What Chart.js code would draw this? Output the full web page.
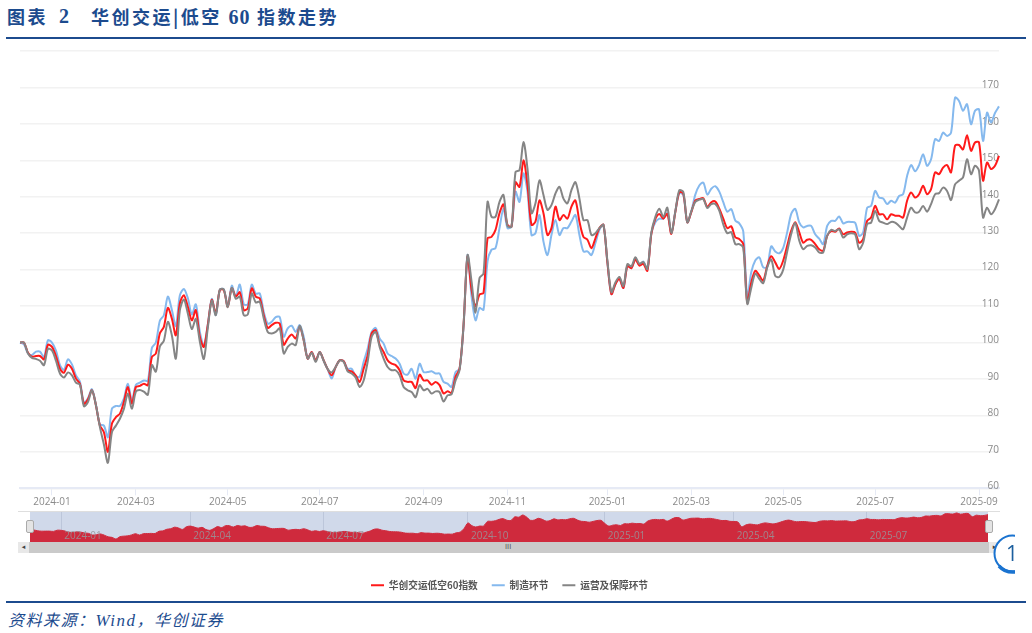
<!DOCTYPE html>
<html>
<head>
<meta charset="utf-8">
<script src="https://cdn.jsdelivr.net/npm/chart.js@4/dist/chart.umd.min.js"></script>
<style>
  html, body { margin: 0; background: #fff; }
  #page { position: relative; width: 1032px; height: 633px; overflow: hidden; font-family: "Noto Sans CJK SC", sans-serif; color: #1c4b8e; }
  #page > * { position: absolute; }
  .head { top: 3px; font-size: 18px; font-weight: 700; line-height: 26px; white-space: nowrap; letter-spacing: 2.5px; }
  .num { font-family: "Liberation Serif", serif; letter-spacing: 1px; font-size: 20px; }
  .rule { left: 6px; width: 1020px; height: 2px; background: #1c4b8e; }
  #source { left: 8px; top: 607px; font-size: 16px; font-style: italic; line-height: 24px; letter-spacing: 1.5px; white-space: nowrap; }
  #source i { font-family: "Liberation Serif", serif; font-size: 17px; }
  #mainBox { left: 0; top: 0; width: 1032px; height: 600px; filter: blur(0.4px); }
  #navBox { left: 30px; top: 512px; width: 958px; height: 30px; background: #d0d9ea; filter: blur(0.4px); }
  #navTop { left: 18px; top: 511px; width: 982px; height: 1px; background: #dedede; }
  #bar { left: 18px; top: 542px; width: 982px; height: 11px; background: #cacaca; }
  .btn { top: 542px; width: 11px; height: 11px; background: #e8e8e8; color: #444; font: 7px/11px "DejaVu Sans"; text-align: center; }
  #grip { left: 505px; top: 542px; font: 7px/11px "DejaVu Sans"; color: #555; }
  .handle { top: 520px; width: 6px; height: 11px; background: #e4e4e4; border: 1px solid #aaa; border-radius: 2px; }
  #badge { left: 990px; top: 530px; width: 25px; height: 48px; overflow: hidden; }
</style>
</head>
<body>
<div id="page">
  <div class="head" style="left:7px">图表</div>
  <div class="head num" style="left:59px">2</div>
  <div class="head" style="left:91px">华创交运|低空 <span class="num">60</span> 指数走势</div>
  <div class="rule" style="top:37px"></div>

  <div id="navTop"></div>
  <div id="navBox"><canvas id="navChart"></canvas></div>
  <div id="bar"></div>
  <div class="btn" style="left:18px">◂</div>
  <div class="btn" style="left:989px">▸</div>
  <div id="grip">III</div>
  <div class="handle" style="left:26px"></div>
  <div class="handle" style="left:985px"></div>
  <div id="mainBox"><canvas id="mainChart"></canvas></div>
  <div id="badge">
    <svg width="40" height="48">
      <circle cx="22.5" cy="23.5" r="18" fill="#fff" stroke="#1a73d0" stroke-width="2"/>
      <path d="M9 36 A18 18 0 0 0 36 36" fill="none" stroke="#1a73d0" stroke-width="3.5"/>
      <text x="16" y="31" font-family="Open Sans" font-size="21" fill="#1c5f9e">1</text>
    </svg>
  </div>

  <div class="rule" style="top:601px"></div>
  <div id="source">资料来源：<i>Wind</i>，华创证券</div>
</div>

<script>
// month names and how many sampled points fall in each one
const months = ['2023-12','2024-01','2024-02','2024-03','2024-04','2024-05','2024-06','2024-07','2024-08','2024-09','2024-10','2024-11','2024-12','2025-01','2025-02','2025-03','2025-04','2025-05','2025-06','2025-07','2025-08','2025-09'];
const monthPoints = [8,13,8,12,11,11,12,13,13,11,10,12,13,11,10,12,11,10,13,13,13,6];
const categories = months.flatMap((m, i) => Array(monthPoints[i]).fill(m));

const tickLabels = ['2024-01','2024-03','2024-05','2024-07','2024-09','2024-11','2025-01','2025-03','2025-05','2025-07','2025-09'];
const navTickLabels = ['2024-01','2024-04','2024-07','2024-10','2025-01','2025-04','2025-07'];
const yTicks = [60,70,80,90,100,110,120,130,140,150,160,170];

const seriesNames = ['华创交运低空60指数','制造环节','运营及保障环节'];

const indexValues = [
  100,100,97.2,96.1,96.3,96.3,95.4,99.4,98.8,96.3,
  92.8,91.7,93.9,92.8,90.1,88.7,83.2,84.4,86.9,82.8,
  77.2,75.4,70,77.7,79.5,80.5,83.7,87.8,83.2,87.8,
  88.1,88.7,88.3,96,97,102.5,104.3,109.5,106.6,102,
  110.7,113,109.8,106.1,108.9,101.6,98.8,104.8,111.7,108,
  114.4,114.4,109.8,114.9,112.6,113.8,108.9,109.4,114.9,112.6,
  112.1,107.5,104,104.8,105.4,105.2,99.4,101.1,102.2,101.1,
  104.3,100.6,95.6,97.4,95.1,97.4,95.1,92.7,91,93.3,
  95.1,94.9,92.4,92.1,91,89.2,92.8,96.5,102.5,103.4,
  99.4,97.4,95.1,94.2,93.8,92.4,89.6,89.2,89.2,87.5,
  91.2,89.6,89.6,88.4,89.2,88.3,86,86.6,86.2,90.6,
  92.8,104.8,123.6,114.5,110,113.2,113.6,128.6,129,130.9,
  135.5,137.9,132.3,131.8,144,142.7,150,143.2,132.3,133.2,
  139,135.5,129.5,131.4,137.3,133.6,135,134,137.3,139,
  133.2,129,128.2,125.9,128.6,131.4,132.3,122,113.3,116,
  117.4,115,121,120.4,122.8,121.1,121.6,119.7,129.8,133.9,
  135.3,134,135.3,129.8,135.8,141.3,140.8,133,135.8,139,
  139.4,139.6,137.2,138.5,138.7,136.7,134,131.4,131.9,128.9,
  128.4,127,111,116.5,119.7,118.4,117,121,123.7,122,
  120.2,122.5,126.6,130.7,133,130.3,127.4,128.2,128.2,127,
  125.6,125.2,129.3,130.6,130.4,131.3,129.7,130.2,130.4,130.2,
  127.4,128.4,133.4,134.3,137.5,135.2,135.2,133.8,135.2,134.8,
  134.8,134.3,138.9,141.2,139.8,140.7,143,140.7,142.1,146.7,
  146.2,148,148.7,146.7,154,154.2,153,156.9,152.6,154.9,
  154.9,144.4,149.4,147.6,148.5,151.2
];

const makerValues = [
  100,99.5,97,96.6,97.5,97.5,96,100.6,100,97.8,
  93.8,92.5,95.4,94,91,89.2,83.5,84.7,87.2,83,
  77.5,77.2,74,81.8,82.6,82.6,84.6,88.7,84.1,88.4,
  89,89.6,89.5,98.5,100,106,107.5,112.6,109,104.5,
  112.9,114.7,112.2,107.7,110.5,103,99.2,105,112,107.5,
  114.5,114.6,110,115.6,112.6,115.9,110.5,110.5,115.9,113.4,
  113.5,108.4,105.2,105.7,107,107,101.6,103.9,104.6,102.9,
  104.8,101.6,95.6,97.4,95.1,97.4,95,92.7,90.1,93.3,
  95.1,94.9,92.8,92.8,90.8,90.6,94.7,98.3,102.9,104,
  101.1,99.7,97,96.3,95.6,94.2,91.5,91.2,92.8,90.1,
  94.2,91.9,91.9,92.1,91.5,91.5,89.2,88.7,87.8,91.9,
  92.8,104.3,124,112.7,106.1,109.5,109,122.3,125.5,125.9,
  131.4,136.8,131.4,131.8,141.4,138.6,146.4,141.4,129.5,130,
  135,127.7,124,129.5,133.6,129.5,131.4,131.4,133.2,135,
  129.5,125,125,124,127.3,130.9,132.3,122,113.3,116,
  117.4,115,121,120.4,123,121.3,122.2,119.9,130,133,
  134,134,135.5,130,136,141,140.5,133,136,140.6,
  143.1,143.9,140.6,142.2,142.9,141.4,138.5,135.9,136.6,133.5,
  132.7,130.5,112.4,119.3,122.5,123.4,120.6,120.8,126.4,125,
  124.5,126,130.3,135.3,136.7,133,131.6,132,132,129.7,
  128.5,127,132,133.4,133.4,134.6,132.7,133.1,133.1,132.9,
  129.3,130.2,137,137.5,141.6,139.8,139.5,138,138.9,138.4,
  140.2,140.7,145.7,148.7,147,148.7,151.7,148.5,150.3,155.8,
  155.3,157.6,156.7,157.6,167.2,166.3,163.6,165.4,159.9,163.6,
  164,155.3,163.1,160.4,163,164.8
];

const operatorValues = [
  100,100,97,95.8,95.5,95,93.8,98.3,97.8,95,
  91.5,90.4,91.8,91,89,88.4,82.5,83.7,86.9,82.8,
  76.8,72,67,75.4,77.2,79.1,81.8,86,81.8,86.5,
  87,86.5,85.7,93.8,92,98.9,100.5,105.7,102,95.6,
  108.8,111.8,108,103.7,106.5,100.3,95.5,104,111.5,107.5,
  114.5,114.6,109.7,115,112,112.6,107.5,107.7,113.5,111,
  111.2,106.6,102.9,102.5,102.9,103.9,97,98.8,99.7,99.3,
  104.6,100.6,95.6,97.2,94.7,97.4,95,92.7,91.8,93.3,
  95.1,94.7,92.1,91.5,90.4,87.8,89.6,94.7,101.6,102.9,
  98.8,95.6,93.3,92.4,92.4,91,87.8,86.9,86.4,85,
  88.3,86.9,87.3,86,86.6,86.4,83.8,85.5,85.8,89.6,
  92.4,104.8,124,116.8,108.2,117.7,119,138.6,134.5,134.5,
  138.6,140.5,132,131.8,146.8,147.3,155,147.7,135.5,138.2,
  144.5,140.5,136.4,137.7,140.9,142.7,139.5,138.2,141.8,144,
  139.5,133.6,133.6,129.5,130,131.4,132.3,122.5,113.8,116.5,
  118,115.5,121.5,120.9,123.4,121.6,122.1,120.2,130.2,134.5,
  136.7,134.5,137,130,136,141.8,141.3,133,136,138.6,
  139.2,139.4,136.9,138,138,136.2,132.4,130,130.3,127,
  127,126,110.6,115,118.9,117.5,116.3,120.6,122.8,118.3,
  118,120,125,129.8,132.8,128,125.6,126.5,126.7,126.1,
  124.7,124.7,129.3,130.9,130.6,131.1,128.8,129.7,130,129.7,
  125.6,127.4,132.5,132.9,136.1,133.4,132.9,132.5,133.1,132.9,
  132,131.1,134.3,137,135.7,135.9,137.5,135.9,138,140.7,
  141,142.5,141.6,139.1,143.4,144.4,145.3,150.3,146.2,148.5,
  147.1,134.3,137,135.2,136.6,139.3
];

Chart.defaults.animation = false;
Chart.defaults.font.family = '"Open Sans", sans-serif';

function lineSet(label, data, color, order) {
  return { label, data, order, borderColor: color, backgroundColor: color, borderWidth: 2, pointRadius: 0, tension: 0.3 };
}

// positions the ticks on the first point of each named month
function monthTicks(names) {
  return axis => { axis.ticks = names.map(n => ({ value: categories.indexOf(n) })); };
}

new Chart(document.getElementById('mainChart'), {
  type: 'line',
  data: {
    labels: categories,
    datasets: [
      lineSet(seriesNames[0], indexValues, '#ff1a1a', 1),
      lineSet(seriesNames[1], makerValues, '#85b9ee', 2),
      lineSet(seriesNames[2], operatorValues, '#858585', 0)
    ]
  },
  options: {
    responsive: true,
    maintainAspectRatio: false,
    layout: { padding: { left: 20, right: 33, top: 51, bottom: 0 } },
    plugins: {
      tooltip: { enabled: false },
      legend: {
        position: 'bottom',
        labels: {
          boxWidth: 13, boxHeight: 0, padding: 14, color: '#555',
          font: { family: '"Noto Sans CJK SC"', size: 9.7, weight: 'bold' },
          sort: (a, b) => a.datasetIndex - b.datasetIndex
        }
      }
    },
    scales: {
      x: {
        afterBuildTicks: monthTicks(tickLabels),
        afterFit: axis => { axis.height = 78; },
        border: { color: '#e6eaf5', width: 2 },
        grid: { drawOnChartArea: false, color: '#e6eaf5', tickLength: 7 },
        ticks: { autoSkip: false, maxRotation: 0, padding: 1, color: '#8a8a8a', font: { size: 10 }, callback: v => categories[v] }
      },
      y: {
        position: 'right',
        min: 60,
        max: 180,
        afterBuildTicks: axis => { axis.ticks = yTicks.concat(180).map(v => ({ value: v })); },
        border: { display: false },
        grid: { color: '#f2f2f2', lineWidth: 1.5, drawTicks: false },
        ticks: { mirror: true, padding: 0, labelOffset: -2, color: '#8a8a8a', font: { size: 10 }, callback: v => yTicks.includes(v) ? String(v) : '' }
      }
    }
  }
});

new Chart(document.getElementById('navChart'), {
  type: 'line',
  data: {
    labels: categories,
    datasets: [{ data: indexValues, fill: 'start', backgroundColor: '#cf2a3d', borderColor: '#cf2a3d', borderWidth: 1, pointRadius: 0, tension: 0.3 }]
  },
  options: {
    responsive: true,
    maintainAspectRatio: false,
    layout: { padding: 0 },
    plugins: { legend: { display: false }, tooltip: { enabled: false } },
    scales: {
      y: { display: false, min: 60, max: 160 },
      x: {
        afterBuildTicks: monthTicks(navTickLabels),
        afterFit: axis => { axis.height = 0; },
        border: { display: false },
        grid: { color: '#bcc6da', drawTicks: false },
        ticks: { z: 1, mirror: true, align: 'start', autoSkip: false, maxRotation: 0, padding: 0, labelOffset: 3, color: 'rgba(150,150,155,0.85)', font: { size: 10 }, callback: v => categories[v] }
      }
    }
  }
});
</script>
</body>
</html>
